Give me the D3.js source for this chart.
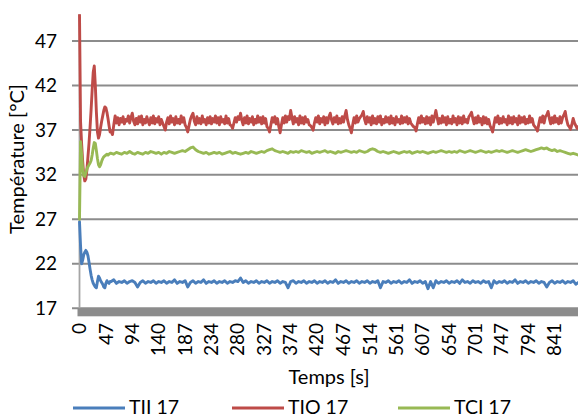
<!DOCTYPE html>
<html><head><meta charset="utf-8">
<script src="https://cdn.jsdelivr.net/npm/d3@7"></script>
<style>
html,body{margin:0;padding:0;background:#fff;}
svg{display:block;font-family:Lato,"Open Sans",sans-serif;}
</style></head>
<body><svg id="c" width="578" height="417"></svg>
<script>
// ---- data ----
const seriesNames = ["TII 17", "TIO 17", "TCI 17"];
const xTickValues = [0,47,94,140,187,234,280,327,374,420,467,514,561,607,654,701,747,794,841];
const yTickValues = [17,22,27,32,37,42,47];
// sampling: fine step for the start-up transient, coarser afterwards
const fineStep = 1.868, fineCount = 30, coarseStart = 56.04;
const coarseStep = 4.672;      // TII / TCI steady part
const tioCoarseStep = 2.336;   // TIO steady part (noisier)

const tiiFine = [26.7,24.0,22.0,22.4,23.0,23.3,23.5,23.3,22.9,22.2,21.4,20.7,20.2,19.8,19.6,19.4,19.3,20.0,20.6,20.4,20.1,19.9,19.7,19.4,19.3,19.8,20.1,19.9,19.8,20.0];
const tioFine = [50.0,38.0,35.5,33.5,32.0,31.3,31.5,32.5,34.0,35.5,37.3,39.3,41.5,43.5,44.2,42.0,39.0,36.8,36.1,36.5,37.3,38.0,38.6,39.2,39.6,39.5,39.0,38.3,37.5,36.8];
const tciFine = [27.0,35.7,34.3,32.6,31.9,31.8,32.2,32.6,32.9,33.1,33.3,33.6,34.2,35.0,35.6,35.5,34.7,33.8,33.1,32.9,33.1,33.5,33.8,34.0,34.1,34.2,34.3,34.2,34.3,34.4];

const tiiCoarse = [
20.0,20.2,19.8,20.0,19.9,20.1,19.8,20.0,20.1,19.9,
19.4,19.9,20.1,19.8,20.0,19.9,20.1,19.8,20.0,19.9,
20.1,19.8,20.0,19.9,20.2,19.8,20.0,19.9,20.1,19.4,
19.9,20.1,19.8,20.0,19.9,20.2,19.8,20.0,19.9,20.1,
19.8,20.0,19.9,20.1,19.8,20.0,19.9,20.1,20.0,20.4,
19.9,20.1,19.8,20.0,19.9,20.1,19.8,20.0,19.9,20.1,
19.8,20.0,19.9,20.1,19.8,20.0,19.9,19.3,20.0,20.1,
19.8,20.0,19.9,20.1,19.8,20.0,19.9,20.1,19.8,20.0,
19.9,20.1,19.8,20.0,19.9,20.2,19.8,20.0,19.9,20.1,
19.8,20.0,19.9,20.1,19.8,20.0,19.9,20.1,19.8,20.0,
19.9,20.1,19.3,20.0,19.9,20.1,19.8,20.0,19.9,20.1,
19.8,20.0,19.9,20.2,19.8,20.0,19.9,20.1,19.8,20.0,
19.2,20.0,19.3,20.1,19.8,20.0,19.9,20.1,19.8,20.0,
19.9,20.1,19.8,20.2,19.9,20.0,19.8,20.1,19.9,20.0,
19.8,20.1,19.9,20.0,19.3,20.1,19.8,20.0,19.9,20.1,
19.8,20.0,19.9,20.2,19.8,20.0,19.9,20.1,19.8,20.0,
19.9,20.1,19.8,20.0,19.9,19.4,19.9,20.1,19.8,20.0,
19.9,20.1,19.8,20.0,19.9,20.1,19.7,19.9,19.8];
const tioCoarse = [
36.8,36.5,37.6,38.6,37.8,38.4,37.6,38.3,37.9,38.5,37.7,38.2,38.0,38.6,37.8,38.4,38.9,38.0,37.6,38.3,
37.7,38.5,37.9,38.6,37.6,38.2,37.8,38.5,38.0,37.6,38.4,37.8,38.6,37.7,38.3,37.9,38.5,37.6,38.2,37.8,
37.4,37.0,37.9,38.4,37.7,38.6,37.9,38.3,37.6,38.5,37.8,38.2,37.7,38.6,37.9,38.4,37.6,37.3,36.8,37.5,
38.2,38.6,38.9,38.0,37.6,38.5,37.8,38.3,37.7,38.6,37.9,38.2,37.6,38.4,37.8,38.5,37.7,38.3,37.9,38.6,
37.8,38.4,37.6,38.5,37.9,38.2,37.7,38.6,37.8,38.3,37.6,37.5,37.2,37.8,38.4,37.9,38.5,38.2,38.9,38.1,
37.6,38.4,37.8,38.6,37.7,38.3,37.9,38.5,37.6,38.2,37.8,38.6,37.9,38.4,37.7,38.5,37.8,38.3,37.4,37.2,
36.8,37.6,38.4,37.9,38.5,37.7,38.3,37.4,36.7,37.6,38.4,37.8,38.6,37.9,38.5,38.2,39.2,38.4,37.7,38.5,
37.9,38.3,37.6,38.6,37.8,38.4,37.7,38.5,37.9,38.2,37.6,37.5,37.3,37.0,37.8,38.4,37.9,38.6,37.7,38.3,
37.9,38.5,37.6,38.4,37.8,38.5,38.9,38.1,37.7,38.4,37.9,38.6,37.7,38.3,37.8,38.5,37.9,38.6,39.2,38.2,
37.6,37.2,36.7,37.6,38.4,37.8,38.6,37.9,38.3,38.5,38.7,39.1,38.2,37.7,38.5,37.9,38.4,37.6,38.6,37.8,
38.3,37.7,38.5,37.9,38.6,37.6,38.2,37.8,38.5,37.9,38.4,37.7,38.6,37.8,38.3,37.6,38.5,37.9,38.2,37.7,
38.6,37.8,38.4,37.9,38.5,37.7,38.3,37.8,37.6,37.4,37.3,36.9,37.7,38.4,37.8,38.6,37.9,38.3,37.7,38.5,
37.8,38.4,37.6,38.6,37.9,38.5,39.2,38.4,37.7,38.3,37.8,38.6,37.9,38.4,37.6,38.5,37.8,38.2,37.7,38.6,
37.9,38.3,37.6,38.5,37.8,38.4,37.7,38.6,37.9,38.2,37.8,38.5,38.7,39.0,38.3,37.7,38.4,37.8,38.6,37.9,
38.3,37.6,38.5,37.8,38.4,37.7,38.2,37.5,37.2,36.8,37.6,38.4,37.9,38.6,37.7,38.3,37.8,38.5,37.9,38.2,
37.6,38.6,37.8,38.4,37.7,38.5,37.9,38.3,37.6,38.6,37.8,38.4,37.9,38.5,37.7,38.2,37.8,38.6,37.9,38.3,
37.6,37.4,37.2,36.9,37.7,38.4,37.9,38.6,37.8,38.5,38.7,39.1,38.3,37.7,38.4,37.8,38.6,37.9,38.3,37.7,
38.5,37.8,38.4,38.7,39.1,38.2,37.6,37.4,37.1,37.6,38.3,37.8,37.5,37.2,37.4,37.3,37.5,37.3];
const tciCoarse = [
34.4,34.3,34.5,34.4,34.3,34.5,34.4,34.6,34.4,34.3,
34.5,34.4,34.3,34.5,34.4,34.6,34.5,34.4,34.5,34.3,
34.5,34.4,34.6,34.5,34.4,34.5,34.6,34.7,34.6,34.8,
35.0,35.1,34.8,34.6,34.5,34.4,34.5,34.3,34.4,34.5,
34.4,34.5,34.3,34.4,34.5,34.6,34.4,34.5,34.4,34.3,
34.4,34.5,34.4,34.6,34.5,34.4,34.5,34.6,34.5,34.7,
34.8,34.9,34.7,34.6,34.5,34.6,34.5,34.4,34.6,34.5,
34.6,34.5,34.7,34.6,34.5,34.6,34.4,34.5,34.6,34.5,
34.6,34.7,34.5,34.6,34.5,34.4,34.6,34.5,34.6,34.7,
34.6,34.5,34.6,34.5,34.7,34.6,34.5,34.6,34.8,34.9,
34.8,34.6,34.5,34.6,34.5,34.4,34.5,34.6,34.5,34.4,
34.5,34.6,34.5,34.6,34.4,34.5,34.6,34.5,34.6,34.5,
34.4,34.5,34.6,34.5,34.6,34.7,34.6,34.5,34.6,34.5,
34.6,34.5,34.7,34.6,34.5,34.6,34.7,34.6,34.5,34.6,
34.7,34.6,34.5,34.6,34.5,34.6,34.7,34.6,34.7,34.6,
34.5,34.6,34.7,34.6,34.5,34.6,34.7,34.8,34.7,34.6,
34.7,34.8,34.9,35.0,34.9,35.0,34.8,34.7,34.8,34.6,
34.7,34.6,34.5,34.4,34.3,34.4,34.3,34.2,34.3];

const colors = ["#4a7ebb", "#be4b48", "#98b954"];

// ---- build ----
function sampleTimes(nCoarse, step) {
  return d3.range(fineCount).map(i => i * fineStep)
    .concat(d3.range(nCoarse).map(j => coarseStart + j * step));
}
const series = [
  {values: tiiFine.concat(tiiCoarse), times: sampleTimes(tiiCoarse.length, coarseStep)},
  {values: tioFine.concat(tioCoarse), times: sampleTimes(tioCoarse.length, tioCoarseStep)},
  {values: tciFine.concat(tciCoarse), times: sampleTimes(tciCoarse.length, coarseStep)}
];

const W = 578, H = 417;
const plot = {left: 79.5, top: 14.3, bottom: 308.3, right: 578};
const x = d3.scaleLinear().domain([0, 841]).range([plot.left, 554.7]);
const y = d3.scaleLinear().domain([17, 50]).range([plot.bottom, plot.top]);

const svg = d3.select("#c");
const FS = 19;

// gridlines + y ticks
svg.append("g").selectAll("line").data(yTickValues).join("line")
  .attr("x1", 72).attr("x2", W).attr("y1", d => y(d)).attr("y2", d => y(d))
  .attr("stroke", "#8c8c8c").attr("stroke-width", 2);

// x-axis tick band (one tick per category)
svg.append("rect").attr("x", 77.5).attr("y", plot.bottom).attr("width", W - 77.5).attr("height", 8)
  .attr("fill", "#8c8c8c");

// y axis line
svg.append("line").attr("x1", plot.left).attr("x2", plot.left).attr("y1", plot.top).attr("y2", plot.bottom)
  .attr("stroke", "#a5a5a5").attr("stroke-width", 1.8);

// y tick labels
svg.append("g").selectAll("text").data(yTickValues).join("text")
  .attr("x", 57).attr("y", d => y(d)).attr("dy", "0.35em")
  .attr("text-anchor", "end").attr("font-size", FS).attr("fill", "#000")
  .text(d => d);

// x tick labels
svg.append("g").selectAll("text").data(xTickValues).join("text")
  .attr("transform", d => `translate(${x(d)},323) rotate(-90)`)
  .attr("dy", "0.35em").attr("text-anchor", "end").attr("font-size", FS).attr("fill", "#000")
  .text(d => d);

// clip
svg.append("clipPath").attr("id", "clip").append("rect")
  .attr("x", plot.left - 2).attr("y", plot.top).attr("width", W).attr("height", plot.bottom - plot.top);

const line = d3.line();
svg.append("g").attr("clip-path", "url(#clip)").selectAll("path").data(series).join("path")
  .attr("d", s => line(s.values.map((v, i) => [x(s.times[i]), y(v)])))
  .attr("fill", "none")
  .attr("stroke", (d, i) => colors[i]).attr("stroke-width", 2.9)
  .attr("stroke-linejoin", "round").attr("stroke-linecap", "round");

// axis titles
svg.append("text").attr("x", 329).attr("y", 384).attr("text-anchor", "middle")
  .attr("font-size", 20).text("Temps [s]");
svg.append("text").attr("transform", "translate(24,159) rotate(-90)").attr("text-anchor", "middle")
  .attr("font-size", 20).text("Température [°C]");

// legend
const legX = [73, 232, 398];
const leg = svg.append("g").selectAll("g").data(seriesNames).join("g")
  .attr("transform", (d, i) => `translate(${legX[i]},0)`);
leg.append("line").attr("x1", 0).attr("x2", 52).attr("y1", 408).attr("y2", 408)
  .attr("stroke", (d, i) => colors[i]).attr("stroke-width", 2.9);
leg.append("text").attr("x", 56).attr("y", 414).attr("font-size", 19.5).text(d => d);
</script></body></html>
